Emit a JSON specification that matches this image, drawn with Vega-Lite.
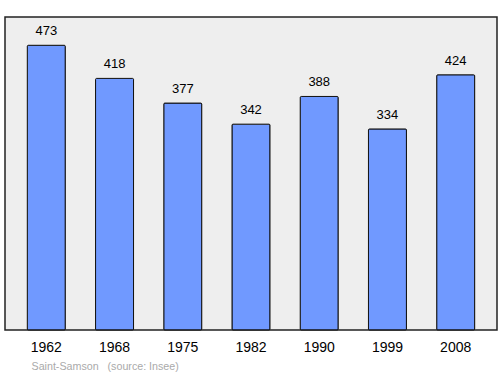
{
  "$schema": "https://vega.github.io/schema/vega-lite/v6.json",
  "width": 492,
  "height": 313,
  "autosize": {"type": "none"},
  "padding": {"left": 5, "top": 17, "right": 3, "bottom": 44},
  "background": "white",
  "config": {
    "font": "Liberation Sans",
    "view": {"fill": "#eeeeee", "stroke": "#222222", "strokeWidth": 1.5}
  },
  "data": {"values": [
    {"year": "1962", "pop": 473},
    {"year": "1968", "pop": 418},
    {"year": "1975", "pop": 377},
    {"year": "1982", "pop": 342},
    {"year": "1990", "pop": 388},
    {"year": "1999", "pop": 334},
    {"year": "2008", "pop": 424}
  ]},
  "encoding": {
    "x": {
      "field": "year", "type": "ordinal", "sort": null,
      "scale": {"paddingInner": 0.443, "paddingOuter": 0.327},
      "axis": {
        "labelAngle": 0, "labelFontSize": 14, "labelColor": "#000000",
        "labelPadding": 10, "ticks": false, "domain": false,
        "title": "Saint-Samson\u00a0\u00a0\u00a0(source: Insee)",
        "titleFontSize": 10.7, "titleFontWeight": "normal", "titleColor": "#aaaaaa",
        "titleAnchor": "start", "titleAlign": "left", "titleX": 26, "titleY": 39,
        "titleBaseline": "alphabetic"
      }
    },
    "y": {
      "field": "pop", "type": "quantitative",
      "scale": {"domain": [0, 520], "nice": false},
      "axis": null
    }
  },
  "layer": [
    {"mark": {"type": "bar", "fill": "#7099ff", "stroke": "#111111", "strokeWidth": 1, "cornerRadius": 1}},
    {"mark": {"type": "text", "baseline": "alphabetic", "dy": -10, "fontSize": 13, "color": "#000000"},
     "encoding": {"text": {"field": "pop", "type": "quantitative"}}}
  ]
}
